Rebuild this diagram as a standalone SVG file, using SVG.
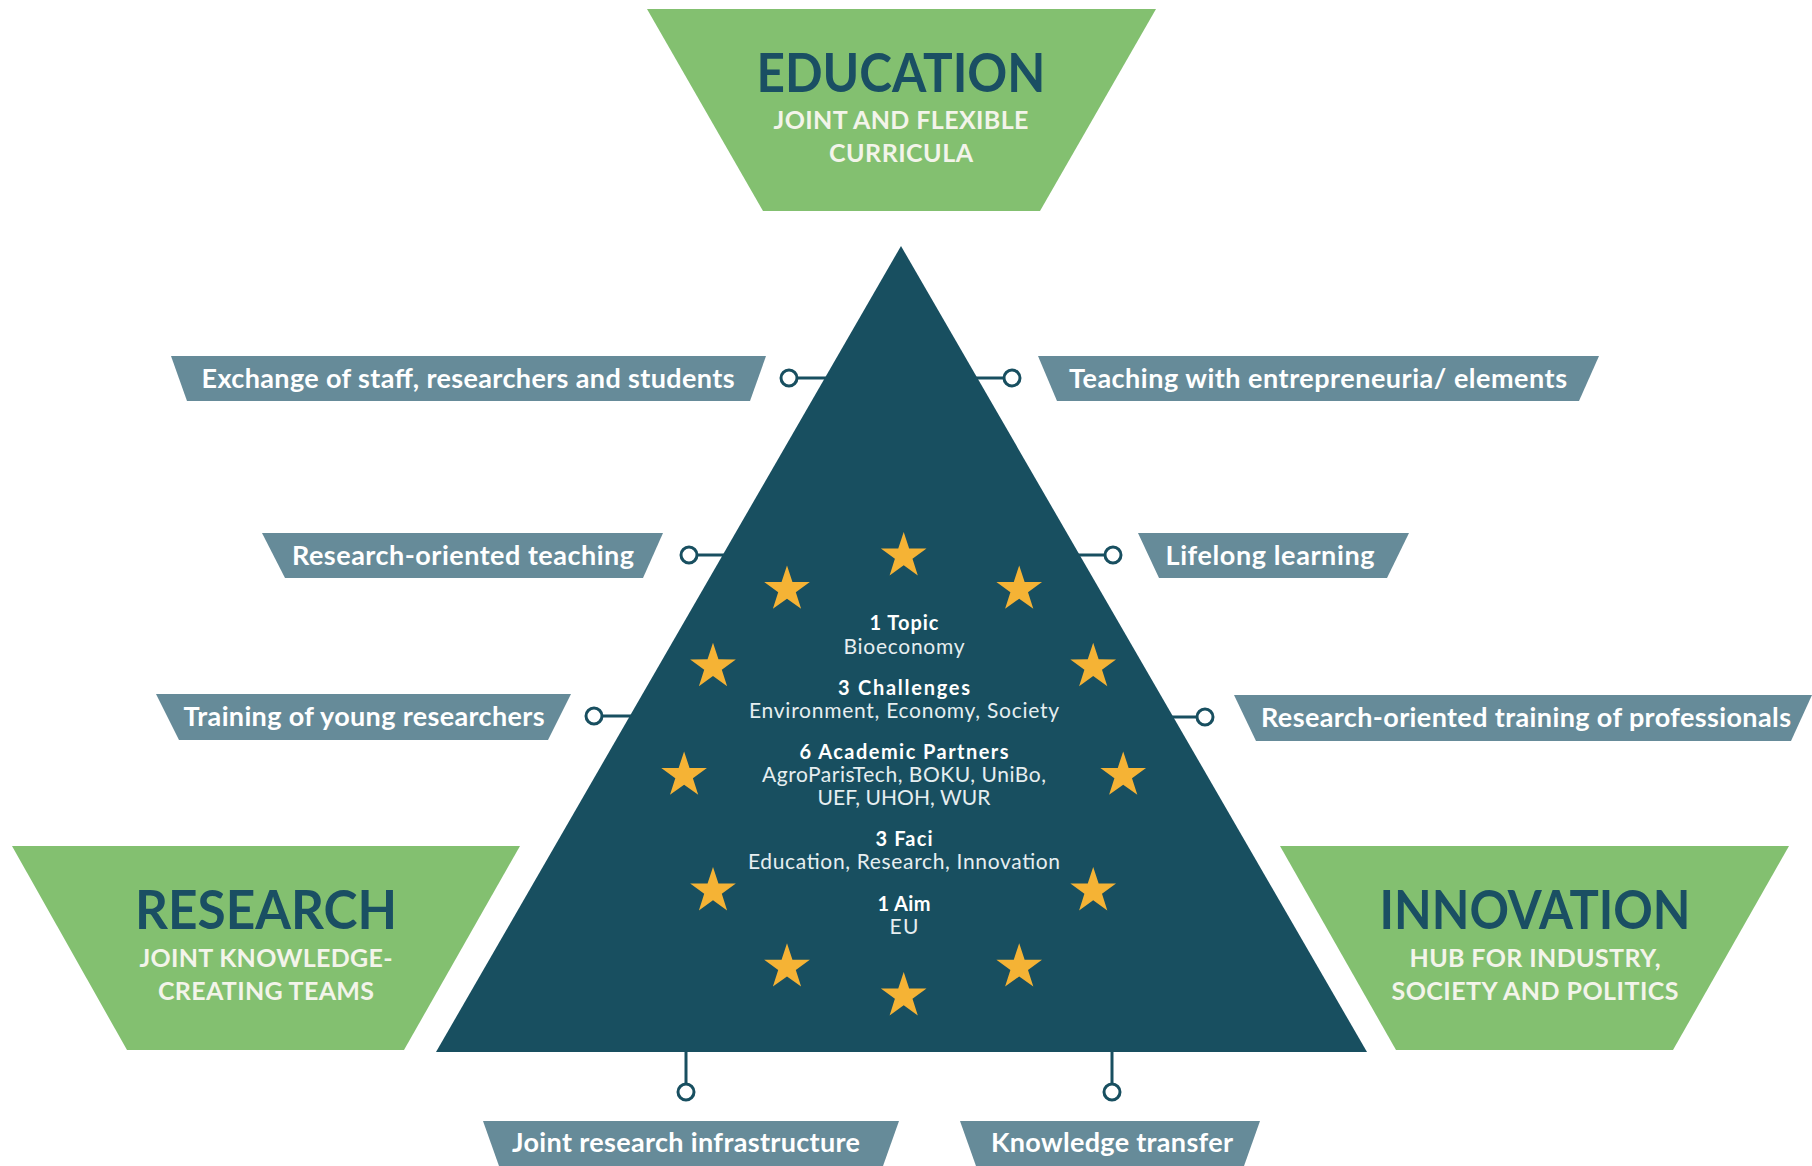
<svg xmlns="http://www.w3.org/2000/svg" width="1812" height="1166" viewBox="0 0 1812 1166">
<style>
.green{fill:#83C070}
.banner{fill:#668B99}
.tri{fill:#184F60}
.title{font-family:Lato,"Liberation Sans",sans-serif;font-weight:700;font-size:53px;fill:#1A4F63;text-anchor:middle}
.sub{font-family:Lato,"Liberation Sans",sans-serif;font-weight:700;font-size:25px;fill:#F3F4EA;text-anchor:middle}
.btxt{font-family:Lato,"Liberation Sans",sans-serif;font-weight:700;font-size:27px;fill:#FFFFFF;text-anchor:middle}
.cb{font-family:Lato,"Liberation Sans",sans-serif;font-weight:700;font-size:20px;fill:#FFFFFF;text-anchor:middle}
.cl{font-family:Lato,"Liberation Sans",sans-serif;font-weight:400;font-size:21px;fill:#E6EEF0;text-anchor:middle}
.star{fill:#F5B335}
.wire{stroke:#184F60;stroke-width:3;fill:none}
.pin{stroke:#184F60;stroke-width:3;fill:#FFFFFF}
</style>
<defs>
<path id="star" d="M0,-24 L5.44,-7.49 L22.83,-7.42 L8.8,2.86 L14.11,19.42 L0,9.26 L-14.11,19.42 L-8.8,2.86 L-22.83,-7.42 L-5.44,-7.49 Z"/>
</defs>
<rect width="1812" height="1166" fill="#FFFFFF"/>

<g id="connectors">
<line class="wire" x1="797" y1="378" x2="830" y2="378"/>
<line class="wire" x1="972" y1="378" x2="1004" y2="378"/>
<line class="wire" x1="697" y1="555" x2="728" y2="555"/>
<line class="wire" x1="1074" y1="555" x2="1105" y2="555"/>
<line class="wire" x1="602" y1="716" x2="636" y2="716"/>
<line class="wire" x1="1166" y1="717" x2="1197" y2="717"/>
<line class="wire" x1="686" y1="1048" x2="686" y2="1084"/>
<line class="wire" x1="1112" y1="1048" x2="1112" y2="1084"/>
<circle class="pin" cx="789" cy="378" r="8"/>
<circle class="pin" cx="1012" cy="378" r="8"/>
<circle class="pin" cx="689" cy="555" r="8"/>
<circle class="pin" cx="1113" cy="555" r="8"/>
<circle class="pin" cx="594" cy="716" r="8"/>
<circle class="pin" cx="1205" cy="717" r="8"/>
<circle class="pin" cx="686" cy="1092" r="8"/>
<circle class="pin" cx="1112" cy="1092" r="8"/>
</g>

<g id="triangle">
<polygon class="tri" points="901,246 436,1052 1367,1052"/>
<use href="#star" class="star" x="903.7" y="556"/>
<use href="#star" class="star" x="1019.2" y="589.4"/>
<use href="#star" class="star" x="1093.2" y="666.8"/>
<use href="#star" class="star" x="1123.2" y="775.4"/>
<use href="#star" class="star" x="1093.2" y="891"/>
<use href="#star" class="star" x="1019.2" y="967.2"/>
<use href="#star" class="star" x="903.7" y="996"/>
<use href="#star" class="star" x="787" y="967.2"/>
<use href="#star" class="star" x="713" y="891"/>
<use href="#star" class="star" x="684.1" y="775.4"/>
<use href="#star" class="star" x="713" y="666.8"/>
<use href="#star" class="star" x="787" y="589.4"/>
<text class="cb" x="904" y="630" textLength="69" lengthAdjust="spacing">1 Topic</text>
<text class="cl" x="904" y="654" textLength="121" lengthAdjust="spacing">Bioeconomy</text>
<text class="cb" x="904" y="695" textLength="132" lengthAdjust="spacing">3 Challenges</text>
<text class="cl" x="904" y="718" textLength="310" lengthAdjust="spacing">Environment, Economy, Society</text>
<text class="cb" x="904" y="759" textLength="209" lengthAdjust="spacing">6 Academic Partners</text>
<text class="cl" x="904" y="782" textLength="284" lengthAdjust="spacing">AgroParisTech, BOKU, UniBo,</text>
<text class="cl" x="904" y="805" textLength="173" lengthAdjust="spacing">UEF, UHOH, WUR</text>
<text class="cb" x="904" y="846" textLength="57" lengthAdjust="spacing">3 Faci</text>
<text class="cl" x="904" y="869" textLength="312" lengthAdjust="spacing">Education, Research, Innovation</text>
<text class="cb" x="904" y="911" textLength="53" lengthAdjust="spacing">1 Aim</text>
<text class="cl" x="904" y="934" textLength="29" lengthAdjust="spacing">EU</text>
</g>

<g id="education">
<polygon class="green" points="647,9 1156,9 1040,211 763,211"/>
<text class="title" x="901" y="92" textLength="289" lengthAdjust="spacingAndGlyphs">EDUCATION</text>
<text class="sub" x="901" y="129" textLength="255" lengthAdjust="spacing">JOINT AND FLEXIBLE</text>
<text class="sub" x="901" y="162" textLength="144" lengthAdjust="spacing">CURRICULA</text>
</g>

<g id="research">
<polygon class="green" points="12,846 520,846 404,1050 127,1050"/>
<text class="title" x="266" y="929" textLength="262" lengthAdjust="spacingAndGlyphs">RESEARCH</text>
<text class="sub" x="266" y="967" textLength="253" lengthAdjust="spacing">JOINT KNOWLEDGE-</text>
<text class="sub" x="266" y="1000" textLength="216" lengthAdjust="spacing">CREATING TEAMS</text>
</g>

<g id="innovation">
<polygon class="green" points="1280,846 1789,846 1673,1050 1396,1050"/>
<text class="title" x="1535" y="929" textLength="311" lengthAdjust="spacingAndGlyphs">INNOVATION</text>
<text class="sub" x="1535" y="967" textLength="251" lengthAdjust="spacing">HUB FOR INDUSTRY,</text>
<text class="sub" x="1535" y="1000" textLength="287" lengthAdjust="spacing">SOCIETY AND POLITICS</text>
</g>

<g id="exchange">
<polygon class="banner" points="171,356 766,356 750,401 187,401"/>
<text class="btxt" x="468" y="388" textLength="533" lengthAdjust="spacing">Exchange of staff, researchers and students</text>
</g>
<g id="teaching">
<polygon class="banner" points="1038,356 1599,356 1579,401 1057,401"/>
<text class="btxt" x="1318" y="388" textLength="498" lengthAdjust="spacing">Teaching with entrepreneuria/ elements</text>
</g>
<g id="research-teaching">
<polygon class="banner" points="262,533 663,533 643,578 285,578"/>
<text class="btxt" x="463" y="565" textLength="342" lengthAdjust="spacing">Research-oriented teaching</text>
</g>
<g id="lifelong">
<polygon class="banner" points="1138,533 1409,533 1387,578 1159,578"/>
<text class="btxt" x="1270" y="565" textLength="209" lengthAdjust="spacing">Lifelong learning</text>
</g>
<g id="young">
<polygon class="banner" points="156,694 571,694 548,740 179,740"/>
<text class="btxt" x="364" y="726" textLength="361" lengthAdjust="spacing">Training of young researchers</text>
</g>
<g id="professionals">
<polygon class="banner" points="1234,695 1812,695 1791,741 1256,741"/>
<text class="btxt" x="1526" y="727" textLength="530" lengthAdjust="spacing">Research-oriented training of professionals</text>
</g>
<g id="infrastructure">
<polygon class="banner" points="483,1121 899,1121 883,1166 499,1166"/>
<text class="btxt" x="686" y="1152" textLength="348" lengthAdjust="spacing">Joint research infrastructure</text>
</g>
<g id="transfer">
<polygon class="banner" points="960,1121 1260,1121 1244,1166 976,1166"/>
<text class="btxt" x="1112" y="1152" textLength="242" lengthAdjust="spacing">Knowledge transfer</text>
</g>
</svg>
